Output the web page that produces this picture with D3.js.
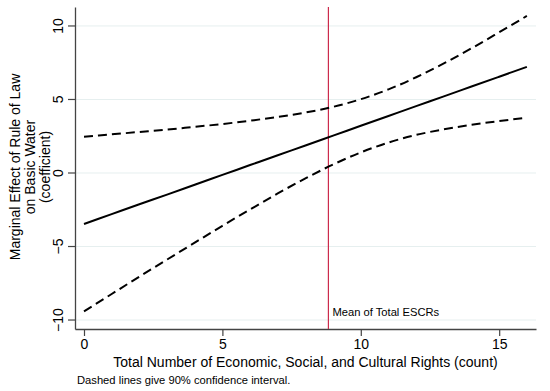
<!DOCTYPE html>
<html><head><meta charset="utf-8">
<script src="https://cdn.jsdelivr.net/npm/d3@7"></script>
<style>
body{margin:0;background:#fff;}
text{font-family:"Liberation Sans",Arial,Helvetica,sans-serif;fill:#000;}
</style></head>
<body>
<svg id="c" width="550" height="391"></svg>
<script>
const xVals = [0,1,2,3,4,5,6,7,8,9,10,11,12,13,14,15,16];
const effect = [-3.47,-2.80,-2.13,-1.47,-0.80,-0.13,0.54,1.21,1.87,2.54,3.21,3.88,4.55,5.21,5.88,6.55,7.22];
const upper = [2.47,2.63,2.79,2.95,3.14,3.33,3.56,3.81,4.11,4.50,5.02,5.69,6.51,7.45,8.48,9.57,10.68];
const lower = [-9.41,-8.23,-7.05,-5.89,-4.74,-3.59,-2.48,-1.39,-0.37,0.58,1.40,2.07,2.59,2.97,3.28,3.53,3.76];
const xTicks = [0,5,10,15];
const yTicks = [-10,-5,0,5,10];
const meanESCR = 8.83;
const xTitle = "Total Number of Economic, Social, and Cultural Rights (count)";
const yTitle = ["Marginal Effect of Rule of Law","on Basic Water","(coefficient)"];
const note = "Dashed lines give 90% confidence interval.";
const meanLabel = "Mean of Total ESCRs";

const svg = d3.select("#c");
const L=75, R=536, T=7, B=329;
const x = d3.scaleLinear().domain([-0.325,16.33]).range([L,R]);
const y = d3.scaleLinear().domain([-10.61,11.29]).range([B,T]);

// gridlines
svg.append("g").selectAll("line").data(yTicks).join("line")
  .attr("x1",L).attr("x2",R).attr("y1",d=>y(d)).attr("y2",d=>y(d))
  .attr("stroke","#e6efef").attr("stroke-width",1);

// axes
const yAxis = d3.axisLeft(y).tickValues(yTicks).tickSize(7).tickPadding(6).tickSizeOuter(0);
const gy = svg.append("g").attr("transform",`translate(${L},0)`).call(yAxis);
gy.select(".domain").attr("stroke","#444").attr("stroke-width",1.3);
gy.selectAll(".tick line").attr("stroke","#444").attr("stroke-width",1.2);
gy.selectAll(".tick text").attr("font-size",14).attr("text-anchor","middle")
  .attr("transform",function(d){return `translate(-17,${y(d)}) rotate(-90)`;}).attr("x",0).attr("y",0).attr("dy","0.35em")
  .each(function(d){ d3.select(this.parentNode).attr("transform",null); });
gy.selectAll(".tick line").attr("y1",d=>y(d)).attr("y2",d=>y(d));

const xAxis = d3.axisBottom(x).tickValues(xTicks).tickSize(7).tickPadding(3).tickSizeOuter(0);
const gx = svg.append("g").attr("transform",`translate(0,${B})`).call(xAxis);
gx.select(".domain").attr("stroke","#444").attr("stroke-width",1.3);
gx.selectAll(".tick line").attr("stroke","#444").attr("stroke-width",1.2);
gx.selectAll(".tick text").attr("font-size",14);

// mean line
svg.append("line").attr("x1",x(meanESCR)).attr("x2",x(meanESCR)).attr("y1",T).attr("y2",B)
  .attr("stroke","#cc2b4c").attr("stroke-width",1.2);
svg.append("text").attr("x",x(meanESCR)+4).attr("y",316).attr("font-size",11.2).text(meanLabel);

// lines
const line = arr => d3.line().x((d,i)=>x(xVals[i])).y(d=>y(d)).curve(d3.curveMonotoneX)(arr);
svg.append("path").attr("d",line(upper)).attr("fill","none").attr("stroke","#000").attr("stroke-width",2).attr("stroke-dasharray","9,5");
svg.append("path").attr("d",line(lower)).attr("fill","none").attr("stroke","#000").attr("stroke-width",2).attr("stroke-dasharray","9,5");
svg.append("path").attr("d",line(effect)).attr("fill","none").attr("stroke","#000").attr("stroke-width",2);

// titles
svg.append("text").attr("x",(L+R)/2).attr("y",367).attr("text-anchor","middle").attr("font-size",14).text(xTitle);
svg.append("text").attr("x",77).attr("y",384).attr("font-size",11.2).text(note);
const yt = svg.append("text").attr("transform",`translate(20,167) rotate(-90)`).attr("text-anchor","middle").attr("font-size",14);
yTitle.forEach((t,i)=>yt.append("tspan").attr("x",0).attr("dy",i===0?0:15).text(t));
</script>
</body></html>
